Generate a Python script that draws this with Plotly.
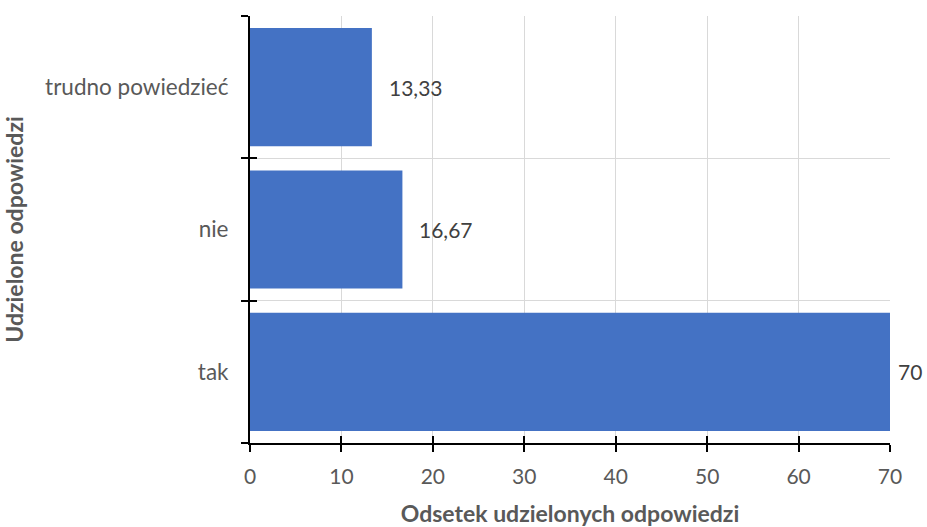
import plotly.graph_objects as go

categories = ["tak", "nie", "trudno powiedzieć"]
values = [70, 16.67, 13.33]
x_ticks = [0, 10, 20, 30, 40, 50, 60, 70]

labels = [f"{v:g}".replace(".", ",") for v in values]
label_shift = [6, 15, 15]

FONT = "Lato, Liberation Sans, sans-serif"
GRAY = "#595959"
XR = [0, 70]
YR = [-0.5, 2.5]

fig = go.Figure()
fig.add_trace(go.Bar(
    y=categories, x=values, orientation="h",
    marker=dict(color="#4472C4", line=dict(width=0)),
    width=0.83, hoverinfo="x+y",
))
# transparent overlay trace to carry inside tick marks
fig.add_trace(go.Bar(
    y=categories, x=values, orientation="h", xaxis="x2", yaxis="y2",
    marker=dict(color="rgba(0,0,0,0)", line=dict(width=0)), width=0.83,
    hoverinfo="skip", showlegend=False,
))

for c, v, t, s in zip(categories, values, labels, label_shift):
    fig.add_annotation(x=v, y=c, text=t, showarrow=False, xanchor="left",
                       xshift=s, font=dict(family=FONT, size=21, color="#404040"))

fig.update_layout(
    width=927, height=527,
    margin=dict(l=250, r=37, t=16, b=84),
    plot_bgcolor="white", paper_bgcolor="white",
    showlegend=False,
    font=dict(family=FONT, size=21, color=GRAY),
    xaxis=dict(
        range=XR, tickvals=x_ticks, showgrid=True, gridcolor="#d9d9d9",
        gridwidth=1, zeroline=False, showline=True, linecolor="black", linewidth=2,
        ticks="outside", ticklen=7, tickwidth=2, tickcolor="black",
        ticklabelstandoff=7,
        tickfont=dict(size=21, color=GRAY), automargin=False,
        title=dict(text="<b>Odsetek udzielonych odpowiedzi</b>", standoff=26,
                   font=dict(size=23, color=GRAY)),
    ),
    yaxis=dict(
        range=YR, categoryorder="array", categoryarray=categories,
        tickson="boundaries", showgrid=True, gridcolor="#d9d9d9", gridwidth=1,
        showline=True, linecolor="black", linewidth=2,
        ticks="outside", ticklen=7, tickwidth=2, tickcolor="black",
        ticklabelstandoff=15, automargin=False,
        tickfont=dict(size=22.5, color=GRAY),
        title=dict(text="<b>Udzielone odpowiedzi</b>", standoff=26,
                   font=dict(size=23, color=GRAY)),
    ),
    xaxis2=dict(
        range=XR, overlaying="x", side="bottom", anchor="y2",
        tickvals=x_ticks, showgrid=False, zeroline=False, showticklabels=False,
        ticks="inside", ticklen=7, tickwidth=2, tickcolor="black", showline=False,
    ),
    yaxis2=dict(
        range=YR, overlaying="y", side="left", anchor="x2",
        categoryorder="array", categoryarray=categories, tickson="boundaries",
        showgrid=False, showticklabels=False, showline=False,
        ticks="inside", ticklen=7, tickwidth=2, tickcolor="black",
    ),
)

fig.write_html("out.html", config={"displayModeBar": False},
               post_script="document.body.style.margin='0';")
